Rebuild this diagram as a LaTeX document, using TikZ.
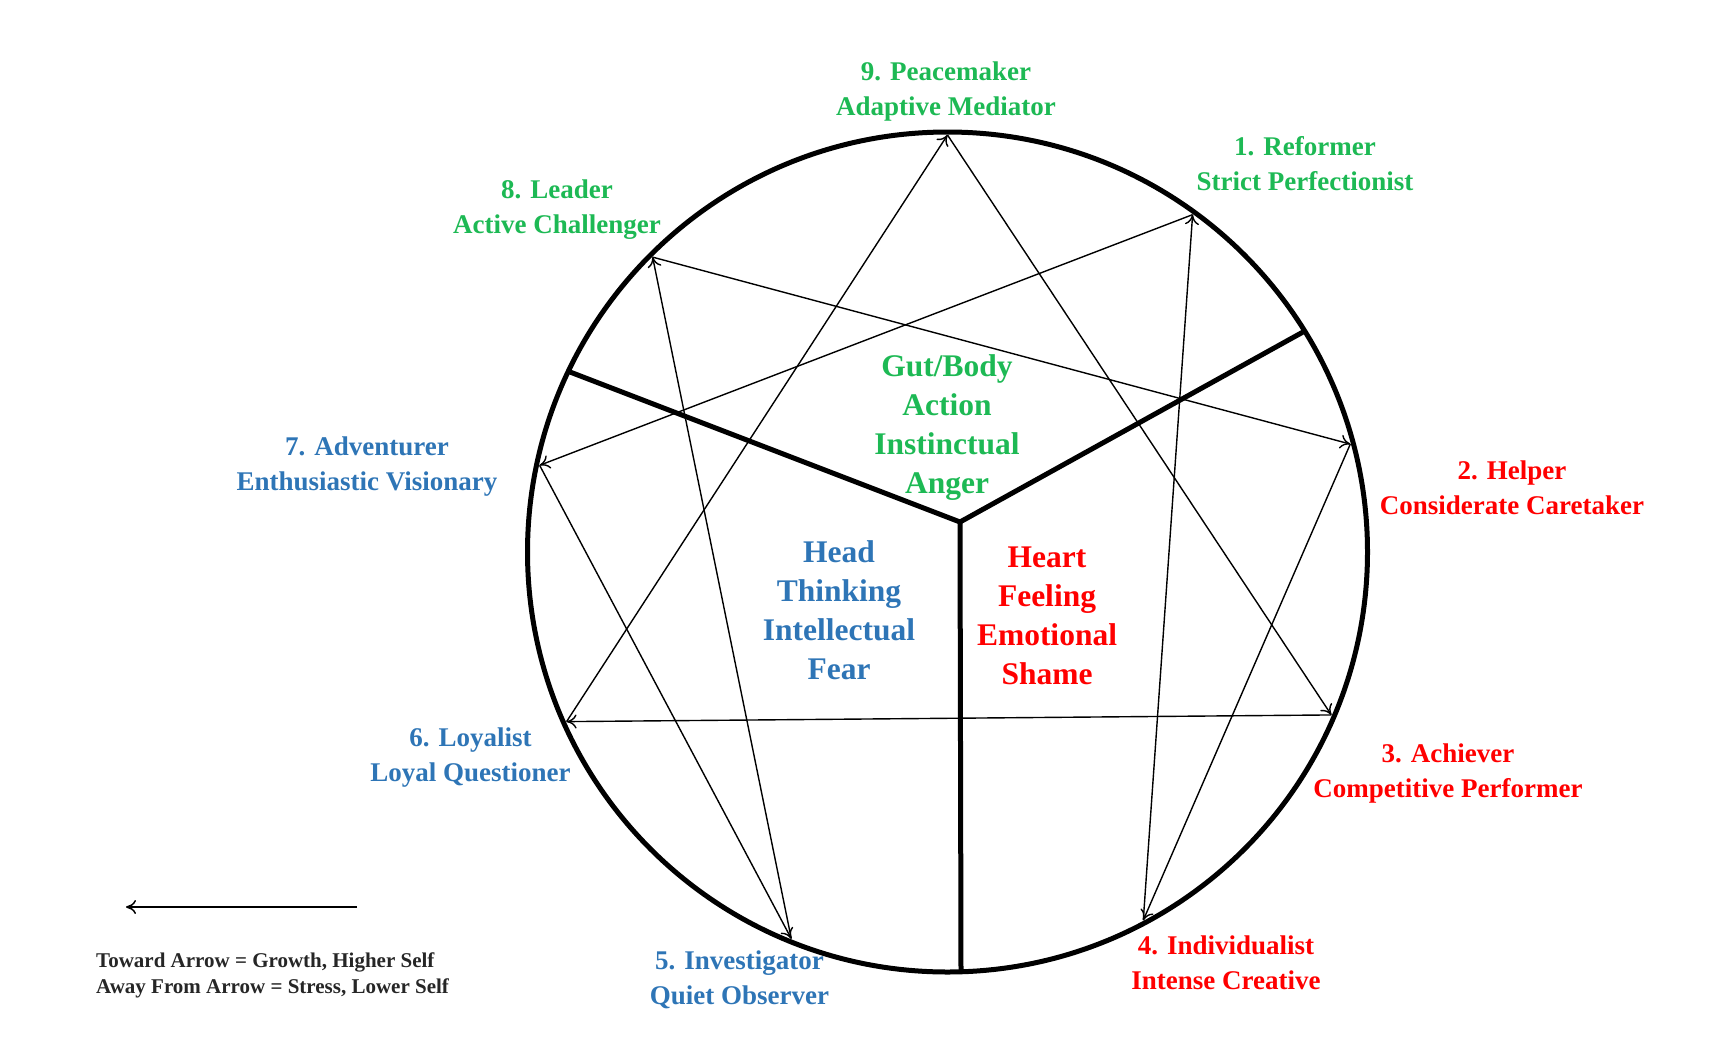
\documentclass[tikz,border=0pt]{standalone}
\usepackage{fontspec}
\setmainfont{Liberation Serif}
\usetikzlibrary{arrows.meta,calc}
\definecolor{egreen}{HTML}{1DB954}
\definecolor{eblue}{HTML}{2E75B6}
\definecolor{ered}{HTML}{FF0000}
\begin{document}
\begin{tikzpicture}[x=1pt,y=1pt,
  lbl/.style={font=\bfseries\fontsize{27}{35}\selectfont, align=center, inner sep=0pt},
  ctr/.style={font=\bfseries\fontsize{31.5}{39}\selectfont, align=center, inner sep=0pt},
  growth/.style={line width=1.4pt, -{To[length=10pt,width=14pt]}},
  divider/.style={line width=5pt, line join=miter},
  ring/.style={line width=5pt}]
\useasboundingbox (0,0) rectangle (1710,-1058);
\coordinate (c) at (947.5,-552);
\draw[ring] (c) circle[radius=420];
\foreach \n/\a in {9/90,1/54,2/15,3/-23,4/-62,5/-112,6/204,7/168,8/135}
  \coordinate (p\n) at ([shift={(\a:417pt)}]c);
% dividers
\coordinate (hub) at (960,-522);
\coordinate (dl) at (570,-372);
\coordinate (dr) at (1303,-332);
\coordinate (db) at (961,-972);
\draw[divider] (dl) -- (hub) -- (dr);
\draw[divider] (hub) -- (db);
% growth arrows
\draw[growth] (p1) -- (p7);
\draw[growth] (p7) -- (p5);
\draw[growth] (p5) -- (p8);
\draw[growth] (p8) -- (p2);
\draw[growth] (p2) -- (p4);
\draw[growth] (p4) -- (p1);
\draw[growth] (p9) -- (p3);
\draw[growth] (p3) -- (p6);
\draw[growth] (p6) -- (p9);
% labels
\node[lbl, text=egreen] (l9) at (946,-91.5) {9. Peacemaker\\Adaptive Mediator};
\node[lbl, text=egreen] (l1) at (1305,-163.5) {1. Reformer\\Strict Perfectionist};
\node[lbl, text=egreen] (l8) at (557,-209.5) {8. Leader\\Active Challenger};
\node[lbl, text=eblue] (l7) at (367,-467) {7. Adventurer\\Enthusiastic Visionary};
\node[lbl, text=ered] (l2) at (1512,-487.5) {2. Helper\\Considerate Caretaker};
\node[lbl, text=ered] (l3) at (1448,-773.5) {3. Achiever\\Competitive Performer};
\node[lbl, text=eblue] (l6) at (470.5,-758) {6. Loyalist\\Loyal Questioner};
\node[lbl, text=eblue] (l5) at (739.5,-979.5) {5. Investigator\\Quiet Observer};
\node[lbl, text=ered] (l4) at (1226,-963) {4. Individualist\\Intense Creative};
% centres
\node[ctr, text=egreen] (gut) at (947,-427.5) {Gut/Body\\Action\\Instinctual\\Anger};
\node[ctr, text=eblue] (head) at (839,-610) {Head\\Thinking\\Intellectual\\Fear};
\node[ctr, text=ered] (heart) at (1047,-615.5) {Heart\\Feeling\\Emotional\\Shame};
% legend
\coordinate (la) at (357,-907);
\coordinate (lb) at (126,-907);
\draw[line width=1.5pt, -{To[length=10pt,width=14pt]}] (la) -- (lb);
\node[anchor=west, align=left, inner sep=0pt, text=black!85,
  font=\bfseries\fontsize{21}{26}\selectfont] (legend) at (96,-975)
  {Toward Arrow = Growth, Higher Self\\Away From Arrow = Stress, Lower Self};
\end{tikzpicture}
\end{document}
